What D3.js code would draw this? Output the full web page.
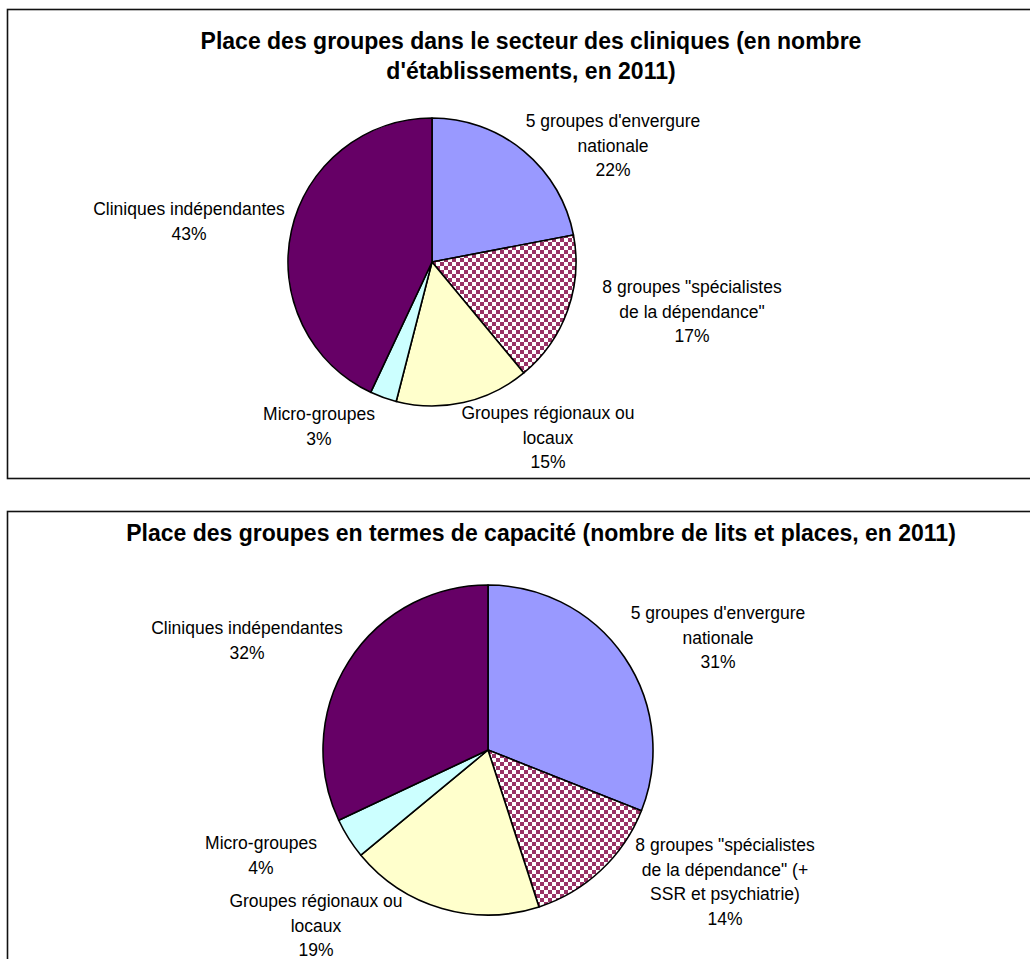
<!DOCTYPE html>
<html>
<head>
<meta charset="utf-8">
<script src="https://cdn.jsdelivr.net/npm/d3@7"></script>
<style>
  html, body { margin: 0; padding: 0; background: #fff; }
  svg { display: block; }
</style>
</head>
<body>
<svg id="chart" width="1030" height="959"></svg>
<script>
// Groups of private clinics, France 2011
const categories = [
  "5 groupes d'envergure nationale",
  "8 groupes \"spécialistes de la dépendance\"",
  "Groupes régionaux ou locaux",
  "Micro-groupes",
  "Cliniques indépendantes"
];
// Share of establishments (%)
const etabShares = [22, 17, 15, 3, 43];
// Share of capacity, beds and places (%)
const capaShares = [31, 14, 19, 4, 32];

const etabTitle = ["Place des groupes dans le secteur des cliniques (en nombre", "d'établissements, en 2011)"];
const capaTitle = ["Place des groupes en termes de capacité (nombre de lits et places, en 2011)"];

const etabLabelLines = [
  ["5 groupes d'envergure", "nationale"],
  ["8 groupes \"spécialistes", "de la dépendance\""],
  ["Groupes régionaux ou", "locaux"],
  ["Micro-groupes"],
  ["Cliniques indépendantes"]
];
const capaLabelLines = [
  ["5 groupes d'envergure", "nationale"],
  ["8 groupes \"spécialistes", "de la dépendance\" (+", "SSR et psychiatrie)"],
  ["Groupes régionaux ou", "locaux"],
  ["Micro-groupes"],
  ["Cliniques indépendantes"]
];

const fills = ["#9999ff", "url(#checker)", "#ffffcc", "#ccffff", "#660066"];

const svg = d3.select("#chart");

// checkerboard fill for the "spécialistes" slice
const defs = svg.append("defs");
const pat = defs.append("pattern")
  .attr("id", "checker").attr("patternUnits", "userSpaceOnUse")
  .attr("width", 8).attr("height", 8);
pat.append("rect").attr("width", 8).attr("height", 8).attr("fill", "#ffffff");
pat.append("rect").attr("x", 0).attr("y", 0).attr("width", 4).attr("height", 4).attr("fill", "#993366");
pat.append("rect").attr("x", 4).attr("y", 4).attr("width", 4).attr("height", 4).attr("fill", "#993366");

const panels = [
  {
    box: { x: 7, y: 9, w: 1040, h: 469 },
    title: etabTitle, titleY: 49, titleX: 531,
    shares: etabShares, lines: etabLabelLines,
    cx: 432, cy: 262, r: 144,
    // label anchors relative to the pie centre (first line)
    offsets: [[181, -141], [260, 25], [116, 151], [-113, 152], [-243, -53]]
  },
  {
    box: { x: 7, y: 511, w: 1040, h: 469 },
    title: capaTitle, titleY: 541, titleX: 541,
    shares: capaShares, lines: capaLabelLines,
    cx: 488, cy: 750, r: 165,
    offsets: [[230, -137], [237, 95], [-172, 151], [-227, 93], [-241, -122]]
  }
];

const pie = d3.pie().sort(null).value(d => d);
const lineH = 24.5;

panels.forEach(p => {
  const g = svg.append("g");

  g.append("rect")
    .attr("x", p.box.x + 0.5).attr("y", p.box.y + 0.5)
    .attr("width", p.box.w).attr("height", p.box.h)
    .attr("fill", "#fff").attr("stroke", "#111").attr("stroke-width", 1.6);

  p.title.forEach((t, i) => {
    g.append("text")
      .attr("x", p.titleX).attr("y", p.titleY + i * 30)
      .attr("text-anchor", "middle")
      .attr("font-family", "Liberation Sans, Arial, sans-serif")
      .attr("font-weight", "bold").attr("font-size", 23)
      .attr("fill", "#000")
      .text(t);
  });

  const arc = d3.arc().innerRadius(0).outerRadius(p.r);
  const arcs = pie(p.shares);
  const pg = g.append("g").attr("transform", `translate(${p.cx},${p.cy})`);

  pg.selectAll("path").data(arcs).join("path")
    .attr("d", arc)
    .attr("fill", (d, i) => fills[i])
    .attr("stroke", "#000").attr("stroke-width", 1.6)
    .attr("stroke-linejoin", "round");

  arcs.forEach((d, i) => {
    const lines = p.lines[i].concat([d.data + "%"]);
    const [ox, oy] = p.offsets[i];
    const t = g.append("text")
      .attr("text-anchor", "middle")
      .attr("font-family", "Liberation Sans, Arial, sans-serif")
      .attr("font-size", 17.5).attr("fill", "#000");
    lines.forEach((ln, k) => {
      t.append("tspan")
        .attr("x", p.cx + ox)
        .attr("y", p.cy + oy + k * lineH)
        .attr("dominant-baseline", "central")
        .text(ln);
    });
  });
});
</script>
</body>
</html>
